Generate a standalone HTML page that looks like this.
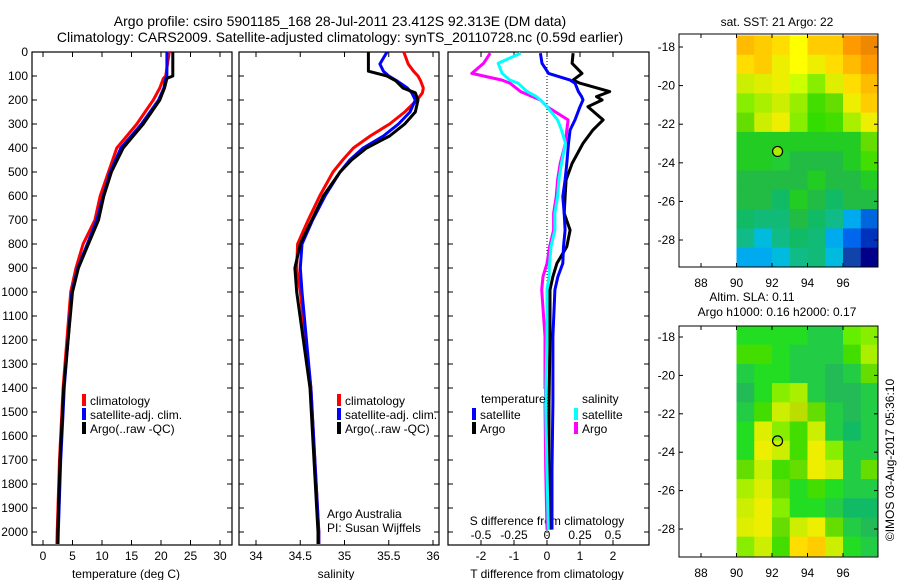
<!DOCTYPE html>
<html><head><meta charset="utf-8"><style>
html,body{margin:0;padding:0;background:#fff;}
svg{display:block;font-family:"Liberation Sans",sans-serif;}
</style></head><body>
<svg id="c" width="900" height="580" viewBox="0 0 900 580" xmlns="http://www.w3.org/2000/svg"></svg>
<script>
// ---- data ----
const tDepth=[0,100,110,150,200,300,400,500,600,700,800,900,1000,1400,1500,1700,2000,2050];
const tClim=[21.4,20.8,20.4,19.8,18.7,15.9,12.5,11.1,9.7,8.8,6.8,5.6,4.7,3.4,3.2,2.8,2.4,2.35];
const tSat=[21.0,21.0,20.8,20.5,19.6,16.7,13.2,11.4,10.2,9.1,7.5,5.9,4.9,3.6,3.4,3.0,2.6,2.55];
const tArgo=[22.0,22.0,21.0,20.6,19.8,17.0,13.6,11.6,10.3,9.4,7.7,6.0,5.0,3.5,3.3,2.9,2.5,2.5];
const sDepth=[0,50,80,100,120,150,170,200,250,300,350,400,450,500,600,700,800,900,1000,1400,2000,2050];
const sClim=[35.67,35.72,35.78,35.83,35.86,35.89,35.88,35.82,35.68,35.51,35.29,35.10,34.98,34.87,34.72,34.59,34.47,34.46,34.50,34.62,34.71,34.71];
const sSat=[35.48,35.40,35.44,35.50,35.59,35.71,35.76,35.80,35.74,35.61,35.44,35.21,35.06,34.95,34.78,34.64,34.52,34.50,34.52,34.62,34.71,34.71];
const sArgo=[35.27,35.27,35.27,35.48,35.58,35.66,35.80,35.83,35.80,35.68,35.51,35.25,35.08,34.95,34.76,34.63,34.50,34.44,34.46,34.61,34.70,34.70];
const dDepth=[5,47,89,117,130,165,186,200,228,283,325,381,464,533,603,672,742,811,881,936,991,1185,1463,1740,1990];
const dTArgo=[0.79,0.76,1.06,0.79,1.0,1.9,1.5,1.67,1.24,1.7,1.39,1.09,0.76,0.58,0.55,0.52,0.7,0.6,0.3,0.18,0.09,0.09,0.06,0.06,0.09];
const dTSat=[-0.2,-0.15,0.05,0.7,0.85,0.95,1.05,1.09,1.0,0.85,0.7,0.65,0.6,0.55,0.48,0.52,0.55,0.5,0.48,0.33,0.24,0.18,0.18,0.15,0.15];
const dSArgo=[-0.43,-0.48,-0.57,-0.34,-0.28,-0.2,-0.11,-0.05,0.0,0.16,0.15,0.14,0.1,0.08,0.07,0.05,0.05,0.02,0.0,-0.03,-0.04,-0.015,-0.015,-0.01,0.0];
const dSSat=[-0.2,-0.37,-0.34,-0.28,-0.22,-0.15,-0.08,-0.05,0.0,0.08,0.11,0.14,0.11,0.09,0.08,0.06,0.06,0.03,0.02,0.015,0.0,0.0,-0.01,0.0,0.01];
const depthTicks=[0,100,200,300,400,500,600,700,800,900,1000,1100,1200,1300,1400,1500,1600,1700,1800,1900,2000];
const tTicks=[0,5,10,15,20,25,30];
const sTicks=[34,34.5,35,35.5,36];
const dTTicks=[-2,-1,0,1,2];
const dSTicks=[-0.5,-0.25,0,0.25,0.5];
const lonTicks=[88,90,92,94,96];
const latTicks=[-18,-20,-22,-24,-26,-28];
const sstGrid=[
"fb0 fc0 fd0 ff0 fc0 fc0 f90 e80","fd0 fc0 ee0 ff0 ee0 fd0 fb0 f90","ce0 de0 ee0 cf0 8e0 de0 fd0 fb0",
"8e0 ae0 ce0 9e0 4d0 6d0 ee0 fc0","6d0 ce0 ee0 8e0 3d0 4d0 ae0 ee0","2c2 2c2 2c2 2c2 2c2 2c2 2c2 6d0",
"2c2 2c2 2c3 2b4 2b4 2b4 2c2 4d0","2b4 2b4 2b4 2b4 2c2 2b4 2b4 2c2","2b4 2b4 1b6 2c2 2b4 1b6 2b4 2b4",
"1b6 1b7 1b7 2b4 1b6 1b8 0ae 06d","1b8 0bd 1b8 1b6 1b7 0ae 06e 03b","0ae 0ae 0bd 1b8 1b7 0bd 14a 008"];
const slaGrid=[
"2d2 2d2 2d2 2d2 2c4 2c4 6e0 8e0","4d0 4d0 2d2 2c4 2c4 2c4 4d0 ae0","2c4 2d2 2d2 2c4 2c4 2b5 2c4 6d0",
"2b5 2d2 8e0 ae0 2c4 2b5 2b5 2c4","2c4 4d0 ce0 bd0 6d0 2c4 2b5 2c4","2d2 de0 8e0 4d0 ce0 2c4 1b6 2c4",
"2d2 ee0 ce0 4d0 ee0 8e0 2c4 2c4","6d0 ce0 4d0 6d0 ee0 ce0 2c4 6d0","ae0 de0 6d0 2d2 4d0 2d2 2c4 2c4",
"ce0 ee0 8e0 2d2 2d2 2c4 1b6 1b6","de0 ee0 6d0 ce0 ee0 6d0 2c4 2b5","8e0 ce0 4d0 fd0 fc0 ce0 2d2 2c4"];
const argoLon=92.313, argoLat=-23.412;

// ---- helpers ----
const NS="http://www.w3.org/2000/svg";
const svg=document.getElementById('c');
function mk(tag,attrs,parent){const e=document.createElementNS(NS,tag);for(const k in attrs)e.setAttribute(k,attrs[k]);(parent||svg).appendChild(e);return e;}
function txt(x,y,s,anchor,size,parent){const e=mk('text',{x:x,y:y,'text-anchor':anchor||'start','font-size':size||12,fill:'#000'},parent);e.textContent=s;return e;}
const PT=52,PB=545;
const yD=d=>PT+0.24*d;
const xT=t=>43+5.9*t;
const xS=s=>256+88.5*(s-34);
const xDT=v=>547+33*v;
const xDS=v=>547+132*v;

function panel(x0,x1,name){
  const g=mk('g',{});
  
  
  mk('rect',{x:x0,y:PT,width:x1-x0,height:PB-PT,fill:'none',stroke:'#000','stroke-width':1.2},g);
  depthTicks.forEach(d=>{const y=yD(d);mk('line',{x1:x0,y1:y,x2:x0+5,y2:y,stroke:'#000'},g);mk('line',{x1:x1-5,y1:y,x2:x1,y2:y,stroke:'#000'},g);});
  return g;
}
function xticks(g,ticks,fx,labels,ly){
  ticks.forEach((t,i)=>{const x=fx(t);mk('line',{x1:x,y1:PT,x2:x,y2:PT+5,stroke:'#000'},g);mk('line',{x1:x,y1:PB-5,x2:x,y2:PB,stroke:'#000'},g);
    if(labels){const e=txt(x,ly,labels[i],'middle',12,g);}});
}
function line(g,xs,ds,fx,color,name,w){
  const pts=xs.map((v,i)=>fx(v).toFixed(1)+','+yD(ds[i]).toFixed(1)).join(' ');
  const p=mk('polyline',{points:pts,fill:'none',stroke:color,'stroke-width':w||3,'stroke-linejoin':'round'},g);
  
  
}
function legend(g,x,y,color,label){
  mk('rect',{x:x-2,y:y-9,width:4,height:12,fill:color},g);
  const e=txt(x+6,y+2,label,'start',12,g);
  
  
}

// titles
let t1=txt(340,26,'Argo profile: csiro 5901185_168 28-Jul-2011 23.412S 92.313E (DM data)','middle',14);

let t2=txt(340,42,'Climatology: CARS2009. Satellite-adjusted climatology: synTS_20110728.nc (0.59d earlier)','middle',14);


// panel 1 temperature
const g1=panel(32,232,'temperature-panel');
depthTicks.forEach(d=>{const e=txt(28,yD(d)+4,String(d),'end',12,g1);});
xticks(g1,tTicks,xT,tTicks.map(String),560);
let a1=txt(126,578,'temperature (deg C)','middle',12,g1);
line(g1,tClim,tDepth,xT,'#f00','temp-climatology-line');
line(g1,tSat,tDepth,xT,'#00f','temp-satellite-line');
line(g1,tArgo,tDepth,xT,'#000','temp-argo-line');
legend(g1,84,403,'#f00','climatology');legend(g1,84,417,'#00f','satellite-adj. clim.');legend(g1,84,431,'#000','Argo(..raw -QC)');

// panel 2 salinity
const g2=panel(239,439,'salinity-panel');
xticks(g2,sTicks,xS,sTicks.map(String),560);
let a2=txt(336,578,'salinity','middle',12,g2);
line(g2,sClim,sDepth,xS,'#f00','sal-climatology-line');
line(g2,sSat,sDepth,xS,'#00f','sal-satellite-line');
line(g2,sArgo,sDepth,xS,'#000','sal-argo-line');
legend(g2,339,403,'#f00','climatology');legend(g2,339,417,'#00f','satellite-adj. clim.');legend(g2,339,431,'#000','Argo(..raw -QC)');
let n1=txt(327,518,'Argo Australia','start',12,g2);
let n2=txt(327,532,'PI: Susan Wijffels','start',12,g2);

// panel 3 differences
const g3=panel(448,649,'difference-panel');
xticks(g3,dTTicks,xDT,dTTicks.map(String),560);
dSTicks.forEach(v=>{const e=txt(xDS(v),539,String(v).replace('0.','0.').replace('-0.','-0.'),'middle',12,g3);});
let a3=txt(547,578,'T difference from climatology','middle',12,g3);
let a4=txt(547,525,'S difference from climatology','middle',12,g3);
const zl=mk('line',{x1:xDT(0),y1:PT,x2:xDT(0),y2:PB,stroke:'#000','stroke-dasharray':'1,2'},g3);

line(g3,dTArgo,dDepth,xDT,'#000','tdiff-argo-line');
line(g3,dTSat,dDepth,xDT,'#00f','tdiff-satellite-line');
line(g3,dSArgo,dDepth,xDS,'#f0f','sdiff-argo-line');
line(g3,dSSat,dDepth,xDS,'#0ff','sdiff-satellite-line');
mk('rect',{x:478,y:389,width:66,height:14,fill:'#fff'},g3);
txt(481,403,'temperature','start',12,g3);txt(582,403,'salinity','start',12,g3);
legend(g3,474,417,'#00f','satellite');legend(g3,474,431,'#000','Argo');
legend(g3,576,417,'#0ff','satellite');legend(g3,576,431,'#f0f','Argo');

// maps
function map(top,bottom,grid,name,fillDot){
  const g=mk('g',{});
  
  
  const L=679,R=878;
  const xl=lon=>701+(lon-88)*17.75;
  const latTop=top===34?47:337, latB=top===34?240:529;
  const yl=lat=>latTop+(lat+18)*(latB-latTop)/(-10);
  grid.forEach((row,r)=>{row.split(' ').forEach((c,ci)=>{
    const x0=xl(90+ci),x1=Math.min(xl(91+ci),R),y0=Math.max(yl(-17.4-r),top),y1=Math.min(yl(-18.4-r),bottom);
    mk('rect',{x:x0,y:y0,width:x1-x0+0.5,height:y1-y0+0.5,fill:'#'+c},g);});});
  mk('rect',{x:L,y:top,width:R-L,height:bottom-top,fill:'none',stroke:'#000'},g);
  lonTicks.forEach(lon=>{const x=xl(lon);mk('line',{x1:x,y1:top,x2:x,y2:top+4,stroke:'#000'},g);mk('line',{x1:x,y1:bottom-4,x2:x,y2:bottom,stroke:'#000'},g);
    txt(x,bottom+20,String(lon),'middle',12,g);});
  latTicks.forEach(lat=>{const y=yl(lat);mk('line',{x1:L,y1:y,x2:L+4,y2:y,stroke:'#000'},g);mk('line',{x1:R-4,y1:y,x2:R,y2:y,stroke:'#000'},g);
    txt(675,y+4,String(lat),'end',12,g);});
  const dot=mk('circle',{cx:xl(argoLon),cy:yl(argoLat),r:5,fill:fillDot,stroke:'#000','stroke-width':1.2},g);
  
  
  return g;
}
const m1=map(34,267,sstGrid,'sst-map','#ae0');
let mt1=txt(777,26,'sat. SST: 21 Argo: 22','middle',12);
const m2=map(326,557,slaGrid,'sla-map','none');
let mt2=txt(752,301,'Altim. SLA: 0.11','middle',12);
let mt3=txt(777,316,'Argo h1000: 0.16 h2000: 0.17','middle',12);
let cr=txt(0,0,'©IMOS 03-Aug-2017 05:36:10','middle',12);
cr.setAttribute('transform','translate(894,460) rotate(-90)');

</script>
</body></html>
